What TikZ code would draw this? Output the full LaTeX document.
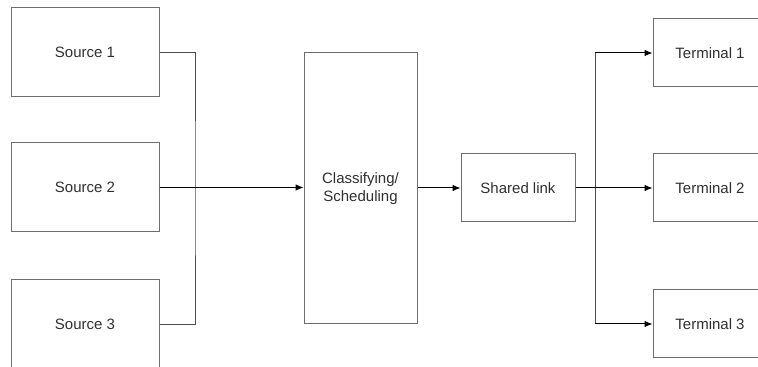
\documentclass[tikz,border=0pt]{standalone}
\usepackage{fontspec}
\setmainfont{Liberation Sans}
\usepackage{xcolor}
\usetikzlibrary{arrows.meta}
\definecolor{boxgray}{HTML}{6E6E6E}
\definecolor{txtgray}{HTML}{303030}

\begin{document}
\begin{tikzpicture}[
		x=0.75pt, y=-0.75pt,
		line width=0.75pt,
		box/.style={draw=boxgray, fill=white, inner sep=0pt, text=txtgray,
			font=\fontsize{11.25}{13.5}\selectfont, align=center},
		srcbox/.style={box, minimum width=111pt, minimum height=66.75pt},
		termbox/.style={box, minimum width=85.5pt, minimum height=51pt},
		bus/.style={draw=black!70},
		arr/.style={draw=black, -{Latex[length=6pt,width=5pt]}}
		]
		\clip (0,0) rectangle (758,367);
		
		% sources
		\node[srcbox] (src1) at (85,52.5) {Source 1};
		\node[srcbox] (src2) at (85,187.5) {Source 2};
		\node[srcbox] (src3) at (85,324.5) {Source 3};
		
		% middle
		\node[box, minimum width=84.75pt, minimum height=203.25pt] (sched) at (360.5,188.5) {Classifying/\\Scheduling};
		\node[termbox] (link) at (518,188) {Shared link};
		
		% terminals
		\node[termbox] (term1) at (710,53) {Terminal 1};
		\node[termbox] (term2) at (710,188) {Terminal 2};
		\node[termbox] (term3) at (710,324) {Terminal 3};
		
		\coordinate (merge) at (195,188);
		\coordinate (fork) at (595,188);
		
		\draw[bus] (src1.east) -| (merge) |- (src3.east);
		\draw[arr] (src2.east) -- (src2.east -| sched.west);
		\draw[arr] (sched.east |- link.west) -- (link.west);
		
		\draw[bus] (fork |- term1.west) -- (fork |- term3.west);
		\draw[arr] (link.east) -- (term2.west);
		\draw[arr] (fork |- term1.west) -- (term1.west);
		\draw[arr] (fork |- term3.west) -- (term3.west);
		
	\end{tikzpicture}
\end{document}
